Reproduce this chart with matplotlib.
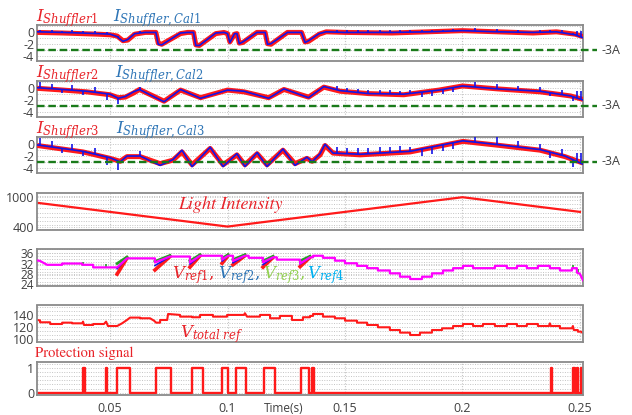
import numpy as np
import matplotlib
matplotlib.use("Agg")
import matplotlib.pyplot as plt
from matplotlib.ticker import MultipleLocator, FixedLocator, NullFormatter
from matplotlib.transforms import blended_transform_factory

plt.rcParams['mathtext.fontset'] = 'dejavuserif'
plt.rcParams['font.family'] = ['Open Sans', 'DejaVu Sans']

# ---------------- data ----------------
t_min, t_max = 0.0189, 0.2513
x_ticks = [0.05, 0.1, 0.15, 0.2, 0.25]
x_ticklabels = ["0.05", "0.1", "0.15", "0.2", "0.25"]
i_limit = -3.0

# Shuffler 1 current (red = measured, blue = calculated)
i1_t = [0.019, 0.030, 0.045, 0.050, 0.053, 0.0555, 0.0575, 0.0605, 0.065, 0.0695,
        0.0705, 0.0720, 0.0800, 0.0830, 0.0855, 0.0865, 0.0880, 0.0950, 0.0985, 0.1000,
        0.1010, 0.1030, 0.1040, 0.1050, 0.1065, 0.1125, 0.1160, 0.1170, 0.1185, 0.1255,
        0.1315, 0.1330, 0.1345, 0.1390, 0.1420, 0.1500, 0.1700, 0.1850, 0.2000, 0.2150,
        0.2300, 0.2400, 0.2480, 0.2513]
i1_red = [0.0, -0.1, -0.3, -0.4, -0.6, -1.4, -1.3, -0.3, 0.0, 0.0,
          -1.8, -2.0, -0.2, 0.0, 0.0, -2.1, -2.2, -0.2, 0.0, -0.2,
          -1.6, -0.3, -0.2, -1.8, -1.7, 0.0, 0.0, -1.9, -2.0, 0.0,
          0.0, -1.6, -1.5, -0.3, 0.1, 0.0, -0.1, 0.1, 0.3, 0.1,
          -0.1, 0.1, -0.3, -0.7]
i1_blue = [0.1, 0.0, -0.2, -0.3, -0.7, -1.5, -1.2, -0.2, 0.0, 0.0,
           -2.0, -2.1, -0.1, 0.0, 0.0, -2.2, -2.2, -0.1, 0.0, -0.2,
           -1.7, -0.2, -0.2, -1.9, -1.6, 0.0, 0.0, -2.0, -1.9, 0.0,
           0.0, -1.7, -1.4, -0.2, 0.1, 0.0, 0.0, 0.1, 0.3, 0.1,
           0.0, 0.1, -0.4, -0.9]

# Shuffler 2 current
i2_t = [0.019, 0.030, 0.040, 0.050, 0.0535, 0.0565, 0.0600, 0.0625, 0.0730, 0.0800,
        0.0885, 0.1000, 0.1070, 0.1175, 0.1240, 0.1345, 0.1410, 0.1480, 0.1600, 0.1750,
        0.1900, 0.2000, 0.2150, 0.2330, 0.2460, 0.2513]
i2_red = [0.0, -0.3, -0.6, -1.1, -1.6, -1.5, -0.8, -0.2, -2.2, -0.3,
          -1.6, -0.3, -0.6, -1.6, -0.2, -1.5, 0.2, -0.5, -0.9, -1.1,
          -0.3, 0.4, -0.1, -0.6, -1.3, -1.9]
i2_blue = [0.1, -0.2, -0.5, -1.0, -1.7, -1.4, -0.6, -0.2, -2.3, -0.2,
           -1.7, -0.3, -0.5, -1.7, -0.1, -1.6, 0.3, -0.4, -0.9, -1.0,
           -0.3, 0.4, -0.1, -0.5, -1.3, -2.0]

# Shuffler 3 current
i3_t = [0.019, 0.0385, 0.050, 0.0543, 0.0572, 0.0628, 0.0670, 0.0713, 0.0768, 0.0806,
        0.0849, 0.0926, 0.0981, 0.1040, 0.1074, 0.1126, 0.1168, 0.1236, 0.1287, 0.1338,
        0.1360, 0.1394, 0.1415, 0.1449, 0.1564, 0.1777, 0.2002, 0.2160, 0.2330, 0.2436,
        0.2513]
i3_red = [-0.2, -1.3, -2.4, -2.9, -2.1, -2.1, -2.7, -3.3, -2.7, -1.3,
          -3.5, -0.7, -3.5, -1.8, -3.5, -1.6, -3.5, -1.0, -3.3, -2.4,
          -2.9, -1.8, -0.2, -1.5, -1.8, -1.3, 0.5, -0.2, -1.0, -2.1,
          -3.2]
i3_blue = [-0.1, -1.2, -2.3, -3.0, -2.0, -2.0, -2.8, -3.6, -2.6, -1.0,
           -3.8, -0.5, -3.8, -1.6, -3.8, -1.4, -3.8, -0.8, -3.6, -2.2,
           -3.0, -1.6, 0.0, -1.5, -1.7, -1.2, 0.6, -0.1, -0.9, -2.0,
           -3.4]

# switching spikes on the calculated currents (time, height per panel)
spike_t = [0.0202, 0.0253, 0.0296, 0.0338, 0.0385, 0.0436, 0.0487, 0.0534, 0.0628,
           0.1466, 0.1509, 0.1555, 0.1598, 0.1649, 0.1691, 0.1734, 0.1777,
           0.1828, 0.1870, 0.1917, 0.1960, 0.2053, 0.2147, 0.2236, 0.2330,
           0.2372, 0.2423, 0.2470, 0.2487, 0.2504]
spike_h1 = [0.4, 0.4, 0.2, 0.4, 0.3, 0.4, 0.3, 0.3, 0.3,
            0.4, 0.4, 0.4, 0.4, 0.4, 0.4, 0.4, 0.3,
            0.3, 0.3, 0.3, 0.3, 0.5, 0.4, 0.3, 0.3,
            0.3, 0.4, 0.3, 0.8, 1.0]
spike_h2 = [1.0, 0.8, -0.6, 0.8, -0.7, 0.9, -1.0, -1.0, 0.5,
            0.7, 0.6, 0.6, 0.6, 0.6, 0.6, 0.6, 0.6,
            -0.8, -0.8, -0.8, -0.8, 0.9, 0.8, 0.7, 0.7,
            -0.6, 0.8, -0.8, 1.2, 1.5]
spike_h3 = [1.2, 1.0, -0.7, 1.0, -0.8, 1.0, -1.3, -1.5, 0.8,
            1.0, 1.0, 1.0, 1.0, 1.0, 1.0, 1.0, 0.8,
            -1.2, -1.2, -1.0, -1.0, 1.2, 1.3, 1.0, 1.0,
            -1.0, 1.0, -1.3, 1.5, 1.8]

# Light intensity
light_t = [0.0, 0.1, 0.2, 0.25]
light_v = [1000, 400, 1000, 700]

# Voltage references (overlapping trace)
vref_t = [0.0189, 0.0202, 0.0232, 0.0296, 0.0296, 0.0381, 0.0381, 0.0428, 0.0428, 0.0530,
          0.0572, 0.0691, 0.0691, 0.0755, 0.0840, 0.0840, 0.0883, 0.0977, 0.0977, 0.1002,
          0.1023, 0.1023, 0.1074, 0.1090, 0.1090, 0.1151, 0.1151, 0.1194, 0.1210, 0.1210,
          0.1309, 0.1309, 0.1351, 0.1364, 0.1364, 0.1406, 0.1406, 0.1457, 0.1457, 0.1500,
          0.1500, 0.1551, 0.1551, 0.1594, 0.1594, 0.1640, 0.1640, 0.1691, 0.1691, 0.1734,
          0.1734, 0.1777, 0.1777, 0.1828, 0.1828, 0.1870, 0.1870, 0.1917, 0.1917, 0.1960,
          0.1960, 0.2002, 0.2002, 0.2045, 0.2045, 0.2138, 0.2138, 0.2189, 0.2189, 0.2232,
          0.2232, 0.2274, 0.2274, 0.2321, 0.2321, 0.2372, 0.2372, 0.2415, 0.2415, 0.2466,
          0.2466, 0.2487, 0.2487, 0.2500, 0.2513]
vref_v = [33.2, 33.0, 31.5, 31.5, 32.0, 32.0, 31.5, 31.5, 30.5, 30.5,
          34.0, 34.0, 32.4, 34.7, 34.7, 32.4, 35.0, 35.0, 33.5, 35.0,
          35.0, 33.0, 35.0, 35.0, 34.2, 34.2, 32.5, 34.4, 34.4, 33.5,
          33.5, 32.0, 34.4, 34.4, 35.0, 35.0, 34.2, 34.2, 33.1, 33.1,
          32.1, 32.1, 31.1, 31.1, 30.2, 30.2, 29.3, 29.3, 28.2, 28.2,
          26.9, 26.9, 26.0, 26.0, 26.9, 26.9, 28.2, 28.2, 29.3, 29.3,
          30.2, 30.2, 31.1, 31.1, 30.2, 30.2, 31.1, 31.1, 30.2, 30.2,
          31.1, 31.1, 30.2, 30.2, 31.1, 31.1, 30.2, 30.2, 29.3, 29.3,
          30.2, 30.2, 28.5, 28.0, 25.5]
# MPPT re-tracking slashes of the individual references
slash_t0 = [0.0530, 0.0691, 0.0840, 0.0977, 0.1023, 0.1151, 0.1309]
slash_t1 = [0.0572, 0.0755, 0.0883, 0.1002, 0.1074, 0.1194, 0.1351]
vref1_lo = [27.9, 29.5, 30.6, 32.1, 31.5, 30.6, 30.8]
vref2_lo = [30.0, 31.2, 31.8, 33.0, 32.3, 31.6, 31.8]
vref3_lo = [32.0, 32.8, 33.0, 34.0, 33.5, 33.0, 33.0]
slash_hi = [34.1, 34.7, 35.0, 35.0, 35.0, 34.4, 34.4]
vref3_spike_t = [0.0385, 0.0483, 0.2372, 0.2470, 0.2490]
vref3_spike_h = [1.2, 1.2, 1.0, 1.3, 1.5]

# Total voltage reference
vtot_t = [0.0189, 0.0202, 0.0202, 0.0245, 0.0245, 0.0296, 0.0296, 0.0338, 0.0338, 0.0381,
          0.0385, 0.0389, 0.0428, 0.0428, 0.0474, 0.0483, 0.0491, 0.0530, 0.0551, 0.0572,
          0.0585, 0.0628, 0.0628, 0.0670, 0.0687, 0.0696, 0.0713, 0.0713, 0.0743, 0.0747,
          0.0798, 0.0798, 0.0849, 0.0849, 0.0883, 0.0883, 0.0938, 0.0938, 0.0998, 0.0998,
          0.1070, 0.1074, 0.1083, 0.1138, 0.1138, 0.1181, 0.1181, 0.1223, 0.1223, 0.1274,
          0.1274, 0.1321, 0.1321, 0.1351, 0.1351, 0.1364, 0.1364, 0.1406, 0.1406, 0.1457,
          0.1457, 0.1500, 0.1500, 0.1551, 0.1551, 0.1594, 0.1594, 0.1640, 0.1640, 0.1691,
          0.1691, 0.1734, 0.1734, 0.1777, 0.1777, 0.1819, 0.1819, 0.1870, 0.1870, 0.1913,
          0.1913, 0.1960, 0.1960, 0.2002, 0.2002, 0.2045, 0.2045, 0.2087, 0.2087, 0.2138,
          0.2138, 0.2189, 0.2189, 0.2232, 0.2232, 0.2274, 0.2274, 0.2321, 0.2321, 0.2368,
          0.2372, 0.2376, 0.2415, 0.2415, 0.2466, 0.2470, 0.2474, 0.2491, 0.2491, 0.2505,
          0.2513]
vtot_v = [131.7, 131.0, 127.9, 127.9, 125.1, 125.1, 127.3, 127.3, 126.2, 126.2,
          129.0, 123.5, 123.5, 125.1, 125.1, 129.0, 121.8, 121.8, 126.2, 131.7,
          135.6, 135.6, 134.5, 134.5, 130.6, 127.3, 127.3, 131.7, 131.7, 141.6,
          140.0, 137.2, 137.2, 136.2, 136.2, 140.0, 140.0, 137.2, 137.2, 140.0,
          140.0, 142.8, 137.2, 137.2, 140.0, 140.0, 134.5, 134.5, 138.4, 138.4,
          131.7, 131.7, 136.2, 136.2, 138.4, 138.4, 141.6, 141.6, 137.2, 137.2,
          134.5, 134.5, 130.6, 130.6, 127.3, 127.3, 123.5, 123.5, 119.7, 119.7,
          115.2, 115.2, 110.9, 110.9, 107.0, 107.0, 110.9, 110.9, 115.2, 115.2,
          118.0, 118.0, 121.8, 121.8, 125.1, 125.1, 121.8, 121.8, 125.1, 125.1,
          121.8, 121.8, 125.1, 125.1, 121.8, 121.8, 125.1, 125.1, 121.8, 121.8,
          126.2, 121.8, 121.8, 118.0, 118.0, 121.8, 115.2, 115.2, 112.5, 112.5,
          109.8]

# Protection signal pulses
pulse_on = [0.0386, 0.0483, 0.0531, 0.0695, 0.0848, 0.0975, 0.1036, 0.1155, 0.1313,
            0.1360, 0.2375, 0.2472, 0.2486, 0.2503]
pulse_off = [0.0394, 0.0489, 0.0585, 0.0760, 0.0897, 0.1003, 0.1077, 0.1202, 0.1347,
             0.1370, 0.2381, 0.2479, 0.2493, 0.2513]

# ---------------- styling ----------------
RED = '#ff1a1a'
BLUE = '#1414e6'
GREEN = '#1a7a1a'
MAG = '#ff00ff'
TXT_RED = '#e8242a'
TXT_BLUE = '#2e75b6'
TICK = '#404040'

W, H = 632, 415
fig = plt.figure(figsize=(W / 100, H / 100), dpi=100)
fig.patch.set_facecolor('white')
X0, X1 = 37, 583


def px(x, y):
    return x / W, 1 - y / H


def make_ax(top, bottom, ylim, yticks, minor, last=False, lsize=9):
    ax = fig.add_axes([X0 / W, 1 - bottom / H, (X1 - X0) / W, (bottom - top) / H])
    ax.set_xlim(t_min, t_max)
    ax.set_ylim(*ylim)
    ax.xaxis.set_major_locator(FixedLocator(x_ticks))
    if last:
        ax.set_xticklabels(x_ticklabels)
    else:
        ax.xaxis.set_major_formatter(NullFormatter())
    ax.yaxis.set_major_locator(FixedLocator(yticks))
    ax.set_yticklabels([str(v) for v in yticks])
    ax.yaxis.set_minor_locator(MultipleLocator(minor))
    ax.tick_params(axis='both', which='both', length=0, labelsize=lsize, colors=TICK, pad=2)
    ax.tick_params(axis='x', pad=5, labelsize=9)
    for s in ax.spines.values():
        s.set_color('#8a8a8a')
        s.set_linewidth(1.3)
    ax.grid(axis='x', which='major', color='#c4c4c4', linestyle=(0, (1, 1.5)), linewidth=0.8)
    ax.grid(axis='y', which='both', color='#c4c4c4', linestyle=(0, (1, 1.5)), linewidth=0.7)
    ax.set_axisbelow(True)
    return ax


cur_ylim = (-4.9, 1.25)
panels = [
    (25, 61.5, i1_t, i1_red, i1_blue, spike_h1, 21.5, 113, '1'),
    (81, 117, i2_t, i2_red, i2_blue, spike_h2, 77.0, 115, '2'),
    (137, 173, i3_t, i3_red, i3_blue, spike_h3, 133.0, 116, '3'),
]
for top, bot, tt, red, blue, sh, base_y, bx, k in panels:
    ax = make_ax(top, bot, cur_ylim, [0, -2, -4], 1.0)
    ax.plot(tt, red, color=RED, lw=3.6, solid_capstyle='butt', zorder=3)
    ax.plot(tt, blue, color=BLUE, lw=1.2, zorder=4)
    base = np.interp(spike_t, tt, blue)
    ax.vlines(spike_t, base, base + np.array(sh), color=BLUE, lw=1.2, zorder=4)
    tr = blended_transform_factory(ax.transAxes, ax.transData)
    ax.plot([0, 1.026], [i_limit, i_limit], transform=tr, clip_on=False,
            color=GREEN, lw=1.7, dashes=(3.2, 1.6), zorder=5)
    ax.text(1.033, i_limit, '-3A', transform=tr, ha='left', va='center',
            fontsize=9, color=TICK)
    fig.text(*px(36, base_y), r'$I_{Shuffler%s}$' % k, color=TXT_RED, fontsize=12,
             ha='left', va='baseline')
    fig.text(*px(bx, base_y), r'$I_{Shuffler,Cal%s}$' % k, color=TXT_BLUE, fontsize=12,
             ha='left', va='baseline')

# Light intensity
ax4 = make_ax(193.3, 230, (330, 1080), [1000, 400], 600 / 7)
ax4.plot(light_t, light_v, color=RED, lw=1.6)
fig.text(*px(230, 205), 'Light Intensity', color=TXT_RED, fontsize=13,
         family='STIXGeneral', style='italic', ha='center', va='center')

# Voltage references
ax5 = make_ax(249.3, 286, (23.3, 37.5), [36, 32, 28, 24], 1.25, lsize=8.5)
for a, b, lo1, lo2, lo3, hi in zip(slash_t0, slash_t1, vref1_lo, vref2_lo, vref3_lo, slash_hi):
    ax5.plot([a, b], [lo1, hi], color=RED, lw=2.6, zorder=3)
    ax5.plot([a, b], [lo2, hi], color=BLUE, lw=1.2, zorder=3)
    ax5.plot([a, b], [lo3, hi + 0.4], color='#22a022', lw=2.0, zorder=3)
vbase = np.interp(vref3_spike_t, vref_t, vref_v)
ax5.vlines(vref3_spike_t, vbase, vbase + np.array(vref3_spike_h), color='#22a022', lw=1.2, zorder=3)
ax5.plot(vref_t, vref_v, color=MAG, lw=1.6, zorder=4)
lbls = [(r'$V_{ref1},$', TXT_RED, 172), (r'$V_{ref2},$', TXT_BLUE, 218),
        (r'$V_{ref3},$', '#92d050', 263), (r'$V_{ref4}$', '#00b0f0', 307)]
for s, c, x in lbls:
    fig.text(*px(x, 278.5), s, color=c, fontsize=12, ha='left', va='baseline')

# Total voltage reference
ax6 = make_ax(305.5, 341.7, (96, 155.5), [140, 120, 100], 20 / 3)
ax6.plot(vtot_t, vtot_v, color=RED, lw=1.5)
fig.text(*px(180, 337.5), r'$V_{total\ ref}$', color=TXT_RED, fontsize=12,
         ha='left', va='baseline')

# Protection signal
ax7 = make_ax(361.7, 395, (-0.09, 1.24), [1, 0], 1 / 6, last=True)
ps_t = [t_min]
ps_v = [0]
for a, b in zip(pulse_on, pulse_off):
    ps_t += [a, a, b, b]
    ps_v += [0, 1, 1, 0]
ps_t.append(t_max)
ps_v.append(0)
ax7.plot(ps_t, ps_v, color=RED, lw=1.7)
fig.text(*px(35, 357), 'Protection signal', color=TXT_RED, fontsize=10.5,
         family='STIXGeneral', ha='left', va='baseline')
fig.text(*px(284, 414.5), 'Time(s)', color=TICK, fontsize=8.5, ha='center', va='bottom')

fig.savefig('out.png', dpi=100, facecolor='white')
